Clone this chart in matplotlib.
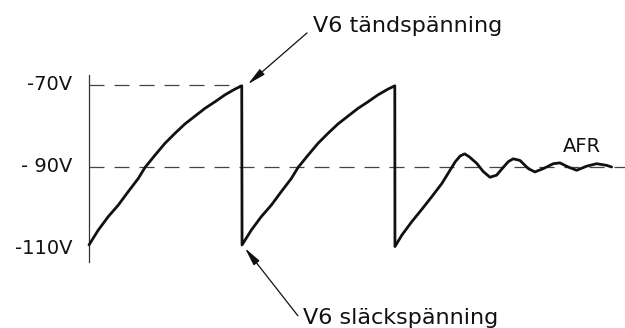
import matplotlib.pyplot as plt

# en laddningscykel: tid från cykelns början och spänning (V)
cykel_t = [0.0, 0.060, 0.125, 0.190, 0.255, 0.320, 0.364, 0.429, 0.494,
           0.558, 0.623, 0.688, 0.753, 0.818, 0.883, 0.948, 0.992]
cykel_u = [-109.0, -105.4, -102.1, -99.3, -96.0, -92.8, -90.1, -87.1, -84.2,
           -81.8, -79.5, -77.6, -75.7, -74.1, -72.4, -71.0, -70.2]
period = 0.994
antal_cykler = 2

# insvängning mot AFR efter sista släckningen
afr_t = [1.987, 2.032, 2.097, 2.162, 2.227, 2.292, 2.346, 2.379, 2.411, 2.440,
         2.469, 2.518, 2.560, 2.604, 2.647, 2.690, 2.723, 2.755, 2.799, 2.853,
         2.896, 2.950, 3.015, 3.058, 3.112, 3.167, 3.232, 3.297, 3.362, 3.394]
afr_u = [-109.4, -106.6, -103.3, -100.3, -97.2, -94.0, -90.7, -88.7, -87.3, -86.8,
         -87.5, -89.1, -91.1, -92.5, -92.0, -90.1, -88.7, -88.0, -88.4, -90.4,
         -91.2, -90.4, -89.2, -89.0, -90.0, -90.8, -89.8, -89.2, -89.6, -90.0]

nivaer = [-70, -90, -110]
etiketter = ['-70V', '- 90V', '-110V']

t = []
u = []
for k in range(antal_cykler):
    t += [k * period + x for x in cykel_t]
    u += cykel_u
t += afr_t
u += afr_u

fig = plt.figure(figsize=(6.25, 3.28), dpi=100)
ax = fig.add_axes([0, 0, 1, 1])
ax.set_xlim(-0.578, 3.481)
ax.set_ylim(-129.27, -49.27)
ax.axis('off')

svart = '#111111'

# y-axel
ax.plot([0, 0], [-67.6, -113.2], color='#333333', lw=0.9)

# streckade nivåer
ax.plot([0, cykel_t[-1]], [-70, -70], color='#444444', lw=0.9, dashes=(12, 8))
ax.plot([0, 3.481], [-90, -90], color='#444444', lw=0.9, dashes=(12, 8))

ax.plot(t, u, color=svart, lw=2.0, solid_joinstyle='round', solid_capstyle='round')

for niva, txt in zip(nivaer, etiketter):
    ax.text(-0.11, niva, txt, ha='right', va='center', fontsize=14, color=svart)

ax.text(1.455, -57.1, 'V6 tändspänning', ha='left', va='baseline', fontsize=16, color=svart)
ax.text(1.39, -128.3, 'V6 släckspänning', ha='left', va='baseline', fontsize=16, color=svart)
ax.text(3.078, -86.3, 'AFR', ha='left', va='baseline', fontsize=14, color=svart)

pil = dict(arrowstyle='-|>,head_length=1.1,head_width=0.22', color=svart, lw=0.9,
           shrinkA=0, shrinkB=0)
ax.annotate('', xy=(1.032, -69.8), xytext=(1.416, -57.3), arrowprops=pil)
ax.annotate('', xy=(1.013, -109.8), xytext=(1.357, -126.3), arrowprops=pil)

fig.savefig('out.png', dpi=100)
